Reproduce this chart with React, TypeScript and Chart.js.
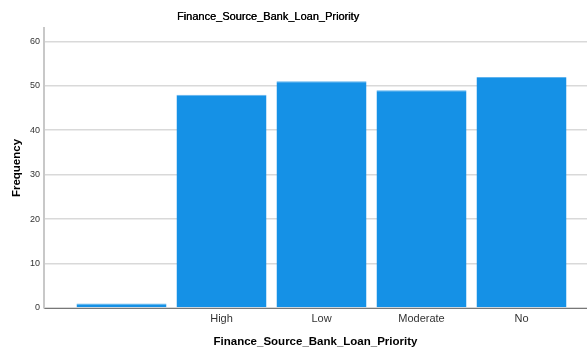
import React, { useEffect, useRef } from "react";
import { Chart, registerables } from "chart.js";

Chart.register(...registerables);

const chartTitle = "Finance_Source_Bank_Loan_Priority";
const categories = ["", "High", "Low", "Moderate", "No"];
const frequencies = [1, 48, 51, 49, 52];
const yTicks = [0, 10, 20, 30, 40, 50, 60];

const titlePlugin = {
  id: "customTitle",
  afterDraw(chart: any) {
    const ctx = chart.ctx;
    ctx.save();
    ctx.fillStyle = "#000";
    ctx.font = "11px Arial, 'Liberation Sans'";
    ctx.textAlign = "center";
    ctx.textBaseline = "middle";
    ctx.fillText(chartTitle, 268, 17);
    ctx.fillText(chartTitle, 268.3, 17);
    ctx.restore();
  },
};

export default function App() {
  const ref = useRef<HTMLCanvasElement | null>(null);
  useEffect(() => {
    if (!ref.current) return;
    const chart = new Chart(ref.current, {
      type: "bar",
      data: {
        datasets: [
          {
            data: frequencies.map((v, i) => ({ x: i, y: v })),
            backgroundColor: "#1591e6",
            borderColor: "#5fb3ee",
            borderWidth: { top: 1, left: 0, right: 0, bottom: 0 } as any,
            barPercentage: 0.9,
            categoryPercentage: 1,
          },
        ],
      },
      plugins: [titlePlugin],
      options: {
        animation: false,
        responsive: false,
        layout: { padding: { top: 28, left: 0, right: 0, bottom: 0 } },
        plugins: {
          legend: { display: false },
          tooltip: { enabled: false },
          title: { display: false },
        },
        scales: {
          x: {
            type: "linear",
            offset: false,
            min: -0.775,
            max: 4.655,
            afterBuildTicks: (s: any) => {
              s.ticks = categories.map((_, i) => ({ value: i }));
            },
            afterFit: (s: any) => {
              s.height = 41;
            },
            ticks: {
              callback: (v: any) => categories[v as number] ?? "",
              color: "#333",
              font: { family: "Arial, 'Liberation Sans'", size: 11 },
              padding: 4,
              autoSkip: false,
              maxRotation: 0,
            },
            grid: { display: false, drawTicks: false },
            border: { color: "#777", width: 1 },
            title: {
              display: true,
              text: chartTitle,
              color: "#000",
              font: { family: "Arial, 'Liberation Sans'", size: 11.5, weight: "bold" },
              padding: { top: 8, bottom: 0 },
            },
          },
          y: {
            min: 0,
            max: 63,
            afterBuildTicks: (s: any) => {
              s.ticks = yTicks.map((v) => ({ value: v }));
            },
            afterFit: (s: any) => {
              s.width = 44;
            },
            ticks: {
              color: "#333",
              font: { family: "Arial, 'Liberation Sans'", size: 9 },
              padding: 4,
            },
            grid: { color: "#d9d9d9", lineWidth: 1.5, drawTicks: false },
            border: { color: "#c8c8c8", width: 2 },
            title: {
              display: true,
              text: "Frequency",
              color: "#000",
              font: { family: "Arial, 'Liberation Sans'", size: 11.5, weight: "bold" },
              padding: { top: 10, bottom: 4 },
            },
          },
        },
      },
    } as any);
    return () => chart.destroy();
  }, []);
  return (
    <div style={{ position: "fixed", left: 0, top: 0, width: 587, height: 349, background: "#fff" }}>
      <canvas ref={ref} width={587} height={349} style={{ width: 587, height: 349 }} />
    </div>
  );
}
